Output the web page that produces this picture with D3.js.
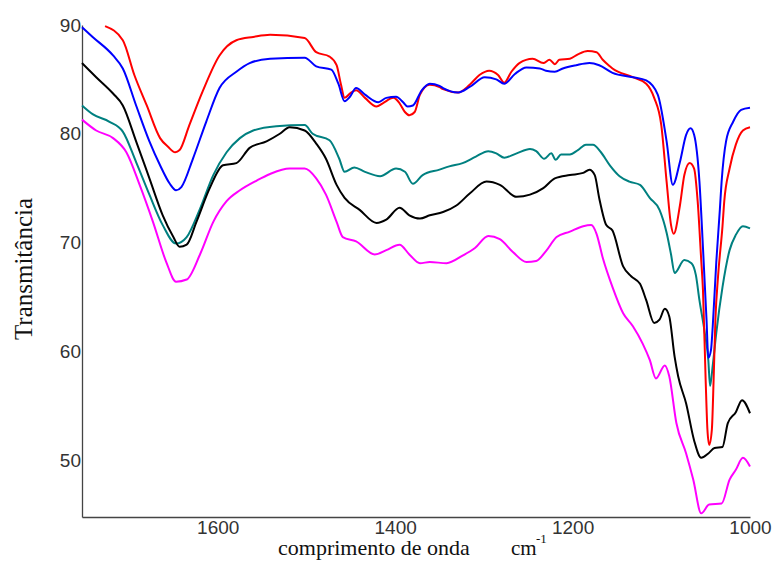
<!DOCTYPE html>
<html>
<head>
<meta charset="utf-8">
<script src="https://cdn.jsdelivr.net/npm/d3@7"></script>
<style>
  body { margin: 0; background: #fff; }
  .tick text { font-family: "Liberation Sans", Arial, sans-serif; font-size: 19px; fill: #333; }
  .lbl { font-family: "Liberation Serif", "Times New Roman", serif; fill: #111; }
</style>
</head>
<body>
<div id="chart"></div>
<script>
// wavenumber (cm-1), transmittance (%)
var redData = [
  [1727,89.9],[1707,88.6],[1694,85.4],[1680,82.6],[1665,79.6],[1656,78.8],[1648,78.3],[1643,78.5],
  [1632,80.8],[1617,83.9],[1598,87.2],[1579,88.6],[1560,88.9],[1541,89.1],[1502,88.8],[1489,87.5],
  [1474,87.1],[1466,86.3],[1461,84.5],[1457,83.3],[1451,83.7],[1444,84.0],[1434,83.3],[1421,82.5],
  [1414,82.8],[1402,83.3],[1395,82.8],[1389,82.0],[1384,81.7],[1378,82.0],[1372,83.6],[1361,84.5],
  [1350,84.3],[1346,84.1],[1329,83.8],[1316,84.5],[1305,85.4],[1294,85.8],[1284,85.4],[1277,84.7],
  [1269,85.7],[1260,86.5],[1245,86.9],[1233,86.5],[1226,86.8],[1220,86.4],[1215,86.8],[1203,86.9],
  [1194,87.3],[1183,87.6],[1173,87.5],[1166,86.8],[1158,86.2],[1155,86.0],[1132,85.2],[1117,84.6],
  [1108,83.3],[1100,80.8],[1094,75.6],[1089,71.6],[1086,70.8],[1079,73.4],[1074,76.2],[1068,77.3],
  [1063,76.8],[1059,73.8],[1055,68.4],[1053,65.6],[1050,57.4],[1048,52.8],[1046,51.4],[1043,52.8],
  [1041,57.4],[1039,62.9],[1036,66.9],[1031,71.5],[1029,73.8],[1023,76.8],[1016,79.0],[1008,80.3],
  [1000,80.6]
];
var blueData = [
  [1753,89.8],[1741,88.9],[1718,87.2],[1707,86.0],[1692,82.6],[1677,79.3],[1665,77.1],[1654,75.4],
  [1647,74.8],[1641,75.1],[1628,77.7],[1613,81.1],[1598,84.2],[1579,85.7],[1564,86.5],[1541,86.9],
  [1502,87.0],[1489,86.2],[1472,85.9],[1464,84.6],[1457,83.0],[1451,83.4],[1444,84.2],[1434,83.6],
  [1419,82.9],[1410,83.3],[1399,83.4],[1391,82.9],[1386,82.5],[1380,82.6],[1370,84.0],[1361,84.6],
  [1350,84.4],[1346,84.2],[1329,83.8],[1316,84.3],[1299,85.2],[1286,85.0],[1277,84.6],[1265,85.5],
  [1252,86.1],[1237,86.0],[1230,85.8],[1220,85.7],[1211,86.0],[1196,86.3],[1181,86.5],[1170,86.3],
  [1155,85.6],[1132,85.2],[1117,84.9],[1104,83.6],[1094,79.3],[1087,75.3],[1079,77.4],[1072,79.9],
  [1067,80.5],[1063,79.9],[1057,75.6],[1053,69.5],[1049,62.9],[1047,59.4],[1044,60.1],[1042,62.3],
  [1038,68.2],[1034,73.0],[1032,75.6],[1027,79.3],[1019,81.1],[1010,82.2],[1000,82.4]
];
var tealData = [
  [1753,82.6],[1741,81.8],[1722,81.1],[1707,80.2],[1692,77.4],[1677,74.4],[1662,71.6],[1647,69.9],
  [1635,70.5],[1620,73.1],[1605,76.2],[1590,78.3],[1575,79.6],[1560,80.3],[1534,80.7],[1502,80.8],
  [1493,80.0],[1474,79.4],[1463,77.7],[1457,76.5],[1446,76.9],[1434,76.5],[1417,76.1],[1399,76.8],
  [1389,76.5],[1380,75.4],[1369,76.2],[1350,76.7],[1339,77.0],[1324,77.3],[1309,77.9],[1295,78.4],
  [1286,78.2],[1277,77.8],[1263,78.2],[1248,78.6],[1241,78.4],[1232,77.7],[1224,78.2],[1219,77.6],
  [1213,78.1],[1203,78.1],[1194,78.5],[1185,79.0],[1177,79.0],[1168,78.3],[1158,77.1],[1147,76.1],
  [1136,75.6],[1124,75.3],[1113,74.1],[1102,73.0],[1094,70.9],[1089,68.9],[1085,67.2],[1074,68.4],
  [1066,68.1],[1061,67.0],[1057,64.7],[1051,61.7],[1047,59.2],[1045,56.8],[1042,58.7],[1038,61.7],
  [1031,65.9],[1023,69.3],[1016,70.7],[1008,71.5],[1000,71.3]
];
var blackData = [
  [1753,86.5],[1737,85.2],[1718,83.7],[1707,82.6],[1692,79.3],[1677,75.9],[1662,72.5],[1650,70.5],
  [1643,69.6],[1635,69.8],[1624,71.9],[1609,75.0],[1594,77.1],[1579,77.3],[1564,78.7],[1545,79.3],
  [1530,80.0],[1519,80.6],[1502,80.3],[1489,79.1],[1478,77.7],[1466,75.3],[1457,74.1],[1440,73.0],
  [1421,71.8],[1410,72.1],[1395,73.2],[1384,72.5],[1372,72.2],[1361,72.5],[1346,72.8],[1331,73.4],
  [1316,74.5],[1297,75.6],[1282,75.3],[1263,74.2],[1248,74.4],[1233,75.0],[1220,75.9],[1203,76.2],
  [1188,76.4],[1181,76.7],[1175,76.2],[1170,74.1],[1162,71.6],[1155,71.1],[1143,67.8],[1134,66.9],
  [1124,66.2],[1117,64.7],[1108,62.6],[1102,62.9],[1096,63.9],[1091,63.2],[1085,59.5],[1081,57.7],
  [1072,55.2],[1063,51.8],[1055,50.2],[1047,50.6],[1040,51.1],[1031,51.2],[1025,53.4],[1016,54.4],
  [1009,55.5],[1000,54.3]
];
var magentaData = [
  [1753,81.3],[1737,80.3],[1718,79.6],[1703,78.3],[1688,75.3],[1673,71.9],[1658,68.2],[1647,66.4],
  [1635,66.6],[1620,68.9],[1605,71.9],[1590,73.8],[1575,74.8],[1556,75.7],[1541,76.3],[1519,76.8],
  [1502,76.8],[1489,75.9],[1478,74.4],[1466,71.9],[1459,70.5],[1444,70.1],[1423,68.9],[1410,69.3],
  [1395,69.8],[1384,68.9],[1372,68.1],[1361,68.2],[1342,68.1],[1324,68.8],[1310,69.5],[1295,70.6],
  [1282,70.3],[1267,69.1],[1252,68.2],[1241,68.3],[1230,69.2],[1218,70.5],[1203,71.0],[1188,71.5],
  [1179,71.6],[1173,70.8],[1166,68.6],[1155,65.9],[1143,63.5],[1132,62.3],[1121,60.7],[1113,59.2],
  [1106,57.5],[1096,58.7],[1091,57.7],[1083,53.4],[1072,50.6],[1064,48.2],[1055,45.1],[1046,45.9],
  [1032,46.0],[1023,48.2],[1016,49.1],[1008,50.2],[1000,49.4]
];
var series = [
  {name: "teal", color: "#008080", data: tealData},
  {name: "magenta", color: "#ff00ff", data: magentaData},
  {name: "black", color: "#000000", data: blackData},
  {name: "red", color: "#ff0000", data: redData},
  {name: "blue", color: "#0000ff", data: blueData}
];
var xTicks = [1600, 1400, 1200, 1000];
var yTicks = [50, 60, 70, 80, 90];

var width = 775, height = 561;
var svg = d3.select("#chart").append("svg").attr("width", width).attr("height", height);

var x = d3.scaleLinear().domain([1753, 1000]).range([82, 750]);
var y = d3.scaleLinear().domain([44.76, 90]).range([517, 25]);

svg.append("g").attr("transform", "translate(0,517)")
    .call(d3.axisBottom(x).tickValues(xTicks).tickSize(0).tickSizeOuter(0).tickPadding(3).tickFormat(d3.format("d")));
svg.append("g").attr("transform", "translate(82,0)")
    .call(d3.axisLeft(y).tickValues(yTicks).tickSize(0).tickSizeOuter(0).tickPadding(1).tickFormat(d3.format("d")));
svg.selectAll(".domain").attr("stroke", "#444").attr("stroke-width", 1.3);

var line = d3.line()
    .x(function(d) { return x(d[0]); })
    .y(function(d) { return y(d[1]); })
    .curve(d3.curveMonotoneX);

svg.append("g").selectAll("path")
    .data(series)
    .join("path")
    .attr("d", function(d) { return line(d.data); })
    .attr("fill", "none")
    .attr("stroke", function(d) { return d.color; })
    .attr("stroke-width", 2)
    .attr("stroke-linejoin", "round");

// axis titles
svg.append("text").attr("class", "lbl")
    .attr("transform", "translate(32,269) rotate(-90)")
    .attr("text-anchor", "middle")
    .style("font-size", "25px")
    .text("Transmitância");

svg.append("text").attr("class", "lbl")
    .attr("x", 278).attr("y", 555)
    .style("font-size", "22px")
    .text("comprimento de onda");
svg.append("text").attr("class", "lbl")
    .attr("x", 511).attr("y", 555)
    .style("font-size", "21px")
    .text("cm");
svg.append("text").attr("class", "lbl")
    .attr("x", 536).attr("y", 543)
    .style("font-size", "13px")
    .text("-1");
</script>
</body>
</html>
